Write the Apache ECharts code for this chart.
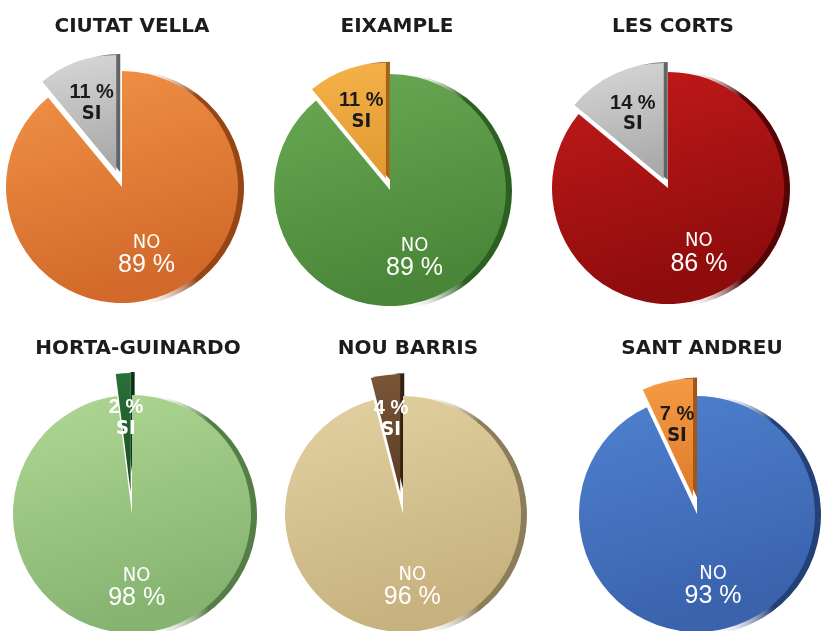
<!DOCTYPE html>
<html>
<head>
<meta charset="utf-8">
<script src="https://cdn.jsdelivr.net/npm/echarts@6/dist/echarts.min.js"></script>
<style>
  html, body { margin: 0; padding: 0; background: #fff; }
  #main { width: 821px; height: 631px; }
</style>
</head>
<body>
<div id="main"></div>
<script>
// datos
const districts = ['CIUTAT VELLA', 'EIXAMPLE', 'LES CORTS', 'HORTA-GUINARDO', 'NOU BARRIS', 'SANT ANDREU'];
const siValues = [11, 11, 14, 2, 4, 7];
const noValues = [89, 89, 86, 98, 96, 93];
const sliceNames = ['SI', 'NO'];

// posiciones y colores de cada pastel
const centers = [[122, 187], [390, 190], [668, 188], [132, 514], [403, 514], [697, 514]];
const radii = [116, 116, 116, 119, 118, 118];
const explode = [17, 12, 10, 22, 22, 18];
const titleX = [127, 392, 668, 133, 403, 697];
const noColors = [
    ['#f39347', '#d2692a', 'rgba(150,70,20,1)'],
    ['#6aab55', '#4a8638', 'rgba(45,95,35,1)'],
    ['#c41a1a', '#8e0c0c', 'rgba(85,5,5,1)'],
    ['#b0d894', '#86b470', 'rgba(85,125,70,1)'],
    ['#e3d2a2', '#c7b27f', 'rgba(140,125,90,1)'],
    ['#4f82d0', '#3a62ad', 'rgba(35,65,120,1)']
];
const siColors = [
    ['#d8d8d8', '#a9a9a9', 'rgba(100,100,100,1)'],
    ['#f6b24a', '#e39a32', 'rgba(160,100,25,1)'],
    ['#d8d8d8', '#aaaaaa', 'rgba(100,100,100,1)'],
    ['#2a7038', '#174e22', 'rgba(10,45,20,1)'],
    ['#7a5638', '#5a3c24', 'rgba(50,32,18,1)'],
    ['#f59a45', '#e07c2a', 'rgba(160,85,25,1)']
];
const siLabelColor = ['#1a1a1a', '#1a1a1a', '#1a1a1a', '#ffffff', '#ffffff', '#1a1a1a'];

function grad(c) {
    return new echarts.graphic.LinearGradient(0, 0, 0.3, 1, [
        { offset: 0, color: c[0] },
        { offset: 1, color: c[1] }
    ]);
}

// borde lateral: solo visible a la derecha
function rimGrad(c) {
    return new echarts.graphic.LinearGradient(0, 0, 1, 0, [
        { offset: 0, color: 'rgba(255,255,255,0)' },
        { offset: 0.55, color: 'rgba(255,255,255,0)' },
        { offset: 0.8, color: c },
        { offset: 1, color: c }
    ]);
}

const narrow = "'Liberation Sans Narrow', 'DejaVu Sans Condensed', 'Liberation Sans', sans-serif";

let mychart = echarts.init(document.getElementById('main'));
let series = [];
let titles = [];

districts.forEach((d, i) => {
    const cx = centers[i][0], cy = centers[i][1], r = radii[i];
    const vals = [siValues[i], noValues[i]];

    titles.push({
        text: d,
        left: titleX[i],
        top: i < 3 ? 12 : 334,
        textAlign: 'center',
        textStyle: { fontFamily: "'DejaVu Sans', sans-serif", fontWeight: 'bold', fontSize: 20, color: '#1c1c1c' }
    });

    const base = {
        type: 'pie',
        center: [cx, cy],
        clockwise: false,
        startAngle: 90,
        selectedMode: 'single',
        selectedOffset: explode[i],
        avoidLabelOverlap: false,
        labelLine: { show: false },
        emphasis: { disabled: true },
        itemStyle: { borderWidth: 0 },
        animation: false
    };

    // borde oscuro (efecto 3D)
    series.push(Object.assign({}, base, {
        center: [cx + 4, cy + 1],
        radius: r + 2,
        z: 1,
        silent: true,
        label: { show: false },
        data: sliceNames.map((n, k) => ({
            name: n, value: vals[k], selected: k === 0,
            itemStyle: { borderWidth: 0, color: rimGrad(k === 0 ? siColors[i][2] : noColors[i][2]) }
        }))
    }));

    // pastel principal
    series.push(Object.assign({}, base, {
        radius: r,
        z: 2,
        label: { show: false },
        data: sliceNames.map((n, k) => ({
            name: n, value: vals[k], selected: k === 0,
            itemStyle: { borderWidth: 0, color: k === 0 ? grad(siColors[i]) : grad(noColors[i]) }
        }))
    }));

    // capa transparente para las etiquetas
    series.push(Object.assign({}, base, {
        radius: [0, r * 1.2],
        z: 3,
        silent: true,
        data: sliceNames.map((n, k) => ({
            name: n, value: vals[k], selected: k === 0,
            itemStyle: { borderWidth: 0, color: 'rgba(0,0,0,0)' },
            label: k === 1 ? {
                show: true,
                position: 'inside',
                formatter: p => '{n|' + p.name + '}\n{p|' + p.value + ' %}',
                rich: {
                    n: { fontFamily: narrow, fontSize: 20, color: '#fff', lineHeight: 20 },
                    p: { fontFamily: "'Liberation Sans', Arial, sans-serif", fontSize: 25, color: '#fff', lineHeight: 25 }
                }
            } : {
                show: true,
                position: 'inside',
                formatter: p => '{p|' + p.value + ' %}\n{n|' + p.name + '}',
                rich: {
                    p: { fontFamily: "'Liberation Sans', Arial, sans-serif", fontWeight: 'bold', fontSize: 20, color: siLabelColor[i], lineHeight: 22 },
                    n: { fontFamily: narrow, fontWeight: 'bold', fontSize: 20, color: siLabelColor[i], lineHeight: 20 }
                }
            }
        }))
    }));
});

mychart.setOption({
    backgroundColor: '#ffffff',
    title: titles,
    series: series
});
</script>
</body>
</html>
